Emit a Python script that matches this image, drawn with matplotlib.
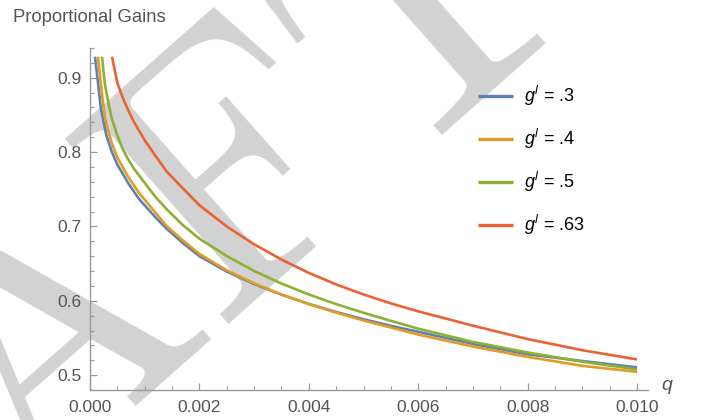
import matplotlib
matplotlib.use('Agg')
import matplotlib.pyplot as plt
from matplotlib.ticker import MultipleLocator, FixedLocator, FormatStrFormatter

plt.rcParams['font.family'] = ['Liberation Sans', 'DejaVu Sans']
plt.rcParams['mathtext.fontset'] = 'custom'
plt.rcParams['mathtext.it'] = 'Liberation Sans:italic'
plt.rcParams['mathtext.rm'] = 'Liberation Sans'
plt.rcParams['axes.formatter.use_mathtext'] = False

# ---- data ----
labels = [r'$g^l$ = .3', r'$g^l$ = .4', r'$g^l$ = .5', r'$g^l$ = .63']
colors = ['#5E81B5', '#E19C24', '#8FB032', '#EB6235']

q_blue = [0.0000914, 0.000146, 0.0002, 0.0003, 0.0004, 0.0005, 0.0007, 0.0009, 0.0012,
          0.0014, 0.0017, 0.002, 0.0025, 0.003, 0.0035, 0.004, 0.0045, 0.005, 0.0055,
          0.006, 0.007, 0.008, 0.009, 0.010]
v_blue = [0.9283, 0.8933, 0.8578, 0.8224, 0.8000, 0.7832, 0.7580, 0.7365, 0.7120,
          0.6970, 0.6775, 0.6600, 0.6393, 0.6225, 0.6082, 0.5958, 0.5849, 0.5752, 0.5663,
          0.5583, 0.5420, 0.5280, 0.5190, 0.5104]

q_orange = [0.000146, 0.000196, 0.000269, 0.0003, 0.0004, 0.0005, 0.0007, 0.0009, 0.0012,
            0.0014, 0.0017, 0.002, 0.0025, 0.003, 0.0035, 0.004, 0.0045, 0.005, 0.0055,
            0.006, 0.007, 0.008, 0.009, 0.010]
v_orange = [0.9283, 0.8933, 0.8475, 0.8376, 0.8115, 0.7928, 0.7664, 0.7446, 0.7183,
            0.7006, 0.6810, 0.6630, 0.6410, 0.6235, 0.6085, 0.5955, 0.5840, 0.5735, 0.5640,
            0.5545, 0.5385, 0.5245, 0.5125, 0.5044]

q_green = [0.000219, 0.000269, 0.0003, 0.000389, 0.0005, 0.0006, 0.0007, 0.0008, 0.001,
           0.0012, 0.0014, 0.0017, 0.002, 0.0025, 0.003, 0.0035, 0.004, 0.0045, 0.005,
           0.0055, 0.006, 0.007, 0.008, 0.009, 0.010]
v_green = [0.9283, 0.8933, 0.8798, 0.8475, 0.8220, 0.8037, 0.7899, 0.7780, 0.7586,
           0.7394, 0.7233, 0.7016, 0.6835, 0.6602, 0.6401, 0.6232, 0.6085, 0.5955, 0.5839,
           0.5730, 0.5625, 0.5447, 0.5305, 0.5180, 0.5077]

q_red = [0.000402, 0.000499, 0.0006, 0.0007, 0.0008, 0.001, 0.0012, 0.0014, 0.0017,
         0.002, 0.0025, 0.003, 0.0035, 0.004, 0.0045, 0.005, 0.0055, 0.006, 0.007,
         0.008, 0.009, 0.010]
v_red = [0.9283, 0.8933, 0.8730, 0.8558, 0.8410, 0.8159, 0.7946, 0.7740, 0.7510,
         0.7285, 0.7000, 0.6760, 0.6555, 0.6375, 0.6220, 0.6085, 0.5965, 0.5858, 0.5665,
         0.5485, 0.5335, 0.5211]

series_q = [q_blue, q_orange, q_green, q_red]
series_v = [v_blue, v_orange, v_green, v_red]

x_ticks = [0.000, 0.002, 0.004, 0.006, 0.008, 0.010]
y_ticks = [0.5, 0.6, 0.7, 0.8, 0.9]

# ---- figure ----
fig = plt.figure(figsize=(7.1, 4.2), dpi=100)

# page watermark (only a part of it falls inside this crop)
fig.text(-0.549, -1.051, 'DRAFT', fontsize=260, rotation=41.5, rotation_mode='anchor',
         color='#d2d2d2', family='cmr10', ha='left', va='baseline', zorder=-5)

ax = fig.add_axes([90/710, 30/420, 558/710, 342/420])
ax.set_facecolor('none')

for qs, vs, c, lab in zip(series_q, series_v, colors, labels):
    ax.plot(qs, vs, color=c, lw=1.9, label=lab, solid_capstyle='butt',
            solid_joinstyle='round')

ax.set_xlim(0, 0.0102)
ax.set_ylim(0.48, 0.94)

axis_col = '#9a9a9a'
for s in ['top', 'right']:
    ax.spines[s].set_visible(False)
for s in ['left', 'bottom']:
    ax.spines[s].set_color(axis_col)
    ax.spines[s].set_linewidth(1.0)

ax.xaxis.set_major_locator(FixedLocator(x_ticks))
ax.xaxis.set_minor_locator(MultipleLocator(0.0005))
ax.yaxis.set_major_locator(FixedLocator(y_ticks))
ax.yaxis.set_minor_locator(MultipleLocator(0.02))
ax.xaxis.set_major_formatter(FormatStrFormatter('%.3f'))
ax.yaxis.set_major_formatter(FormatStrFormatter('%.1f'))
ax.tick_params(which='major', direction='in', length=5, width=0.9, color=axis_col,
               labelcolor='#555555', labelsize=12.5)
ax.tick_params(which='minor', direction='in', length=3, width=0.8, color=axis_col)
ax.tick_params(axis='x', pad=7)
ax.tick_params(axis='y', pad=6)

leg = ax.legend(loc='upper left', bbox_to_anchor=(478/710, 1 - 84/420),
                bbox_transform=fig.transFigure, frameon=False, fontsize=13,
                handlelength=1.95, handletextpad=0.6, labelspacing=1.05,
                borderpad=0, borderaxespad=0)
for line in leg.get_lines():
    line.set_linewidth(2.4)

fig.text(13/710, 1 - 22/420, 'Proportional Gains', fontsize=13.3, color='#555555',
         ha='left', va='baseline')
fig.text(667/710, 1 - 387/420, r'$q$', fontsize=14, color='#555555',
         ha='center', va='center')

fig.savefig('out.png', dpi=100)
